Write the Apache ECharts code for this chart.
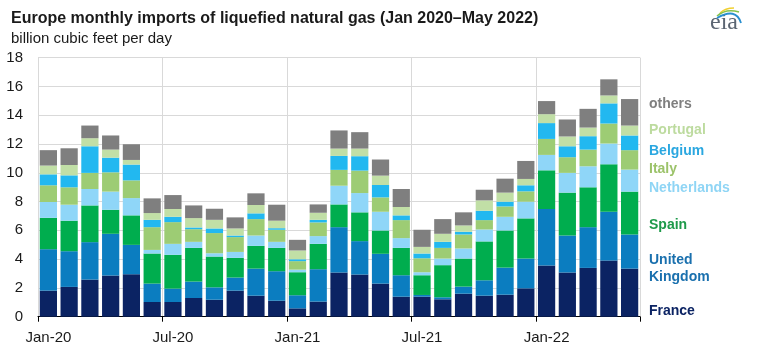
<!DOCTYPE html>
<html>
<head>
<meta charset="utf-8">
<script src="https://cdn.jsdelivr.net/npm/echarts@6/dist/echarts.min.js"></script>
<style>html,body{margin:0;padding:0;background:#fff;}#c{width:762px;height:356px;}</style>
</head>
<body>
<div id="c"></div>
<script>
const months = ['Jan-20','Feb-20','Mar-20','Apr-20','May-20','Jun-20','Jul-20','Aug-20','Sep-20','Oct-20','Nov-20','Dec-20',
  'Jan-21','Feb-21','Mar-21','Apr-21','May-21','Jun-21','Jul-21','Aug-21','Sep-21','Oct-21','Nov-21','Dec-21',
  'Jan-22','Feb-22','Mar-22','Apr-22','May-22'];
const yTicks = [0, 2, 4, 6, 8, 10, 12, 14, 16, 18];

const france      = [1.81,2.07,2.58,2.86,2.95,1.02,1.02,1.30,1.18,1.81,1.46,1.11,0.58,1.05,3.07,2.93,2.30,1.39,1.39,1.21,1.60,1.46,1.53,1.97,3.55,3.07,3.39,3.90,3.34];
const uk          = [2.88,2.48,2.60,2.90,2.04,1.28,0.93,1.14,0.86,0.91,1.88,2.05,0.91,2.25,3.15,2.32,2.07,1.49,0.12,0.14,0.49,1.07,1.88,2.07,3.93,2.57,2.83,3.39,2.37];
const spain       = [2.18,2.12,2.55,1.67,2.05,2.09,2.35,2.34,2.14,1.37,1.58,1.62,1.60,1.76,1.58,2.00,1.62,1.90,1.37,2.23,1.95,2.70,2.58,2.79,2.69,2.98,2.77,3.30,2.98];
const netherlands = [1.10,1.11,1.14,1.26,1.20,0.25,0.76,0.42,0.23,0.41,0.72,0.42,0.18,0.54,1.30,1.34,1.30,0.68,0.21,0.46,0.70,0.83,0.95,1.16,1.07,1.37,1.46,1.44,1.53];
const italy       = [1.16,1.21,1.12,1.34,1.23,1.58,1.51,0.88,1.40,1.03,1.14,0.84,0.59,0.95,1.10,1.56,1.00,1.25,0.97,0.74,0.97,0.65,0.72,0.72,1.11,1.09,1.16,1.39,1.35];
const belgium     = [0.76,0.83,1.85,1.02,1.10,0.51,0.37,0.12,0.32,0.11,0.40,0.11,0.13,0.18,0.97,1.00,0.86,0.33,0.33,0.42,0.19,0.65,0.33,0.42,1.10,0.76,0.93,1.40,1.02];
const portugal    = [0.61,0.72,0.56,0.56,0.32,0.47,0.54,0.65,0.60,0.49,0.58,0.52,0.61,0.49,0.51,0.53,0.65,0.58,0.46,0.56,0.44,0.72,0.63,0.44,0.62,0.68,0.60,0.55,0.69];
const others      = [1.07,1.16,0.88,0.98,1.09,1.02,0.97,0.88,0.77,0.77,0.81,1.11,0.74,0.58,1.26,1.14,1.12,1.25,1.19,1.02,0.91,0.74,0.97,1.25,0.91,1.18,1.30,1.12,1.84];

const seriesDefs = [
  {name:'France', data:france, color:'#0b2363'},
  {name:'United Kingdom', data:uk, color:'#0b7dc0'},
  {name:'Spain', data:spain, color:'#00ad4e'},
  {name:'Netherlands', data:netherlands, color:'#8fd6f8'},
  {name:'Italy', data:italy, color:'#9dcc74'},
  {name:'Belgium', data:belgium, color:'#22b8f0'},
  {name:'Portugal', data:portugal, color:'#c1dfa6'},
  {name:'others', data:others, color:'#7f7f7f'}
];

const chart = echarts.init(document.getElementById('c'), null, {renderer:'canvas'});
const FONT = '"Liberation Sans", Arial, sans-serif';

const legendText = [
  {text:'others', y:103, c:'#7f7f7f'},
  {text:'Portugal', y:129, c:'#bddb9f'},
  {text:'Belgium', y:150, c:'#2aa7e0'},
  {text:'Italy', y:168, c:'#9cc36a'},
  {text:'Netherlands', y:187, c:'#8fd5f5'},
  {text:'Spain', y:224, c:'#1e9a4a'},
  {text:'United\nKingdom', y:259, c:'#1a70ae'},
  {text:'France', y:310, c:'#0b2363'}
];

const graphics = legendText.map(l => ({
  type:'text', left:649, top:l.y - 7, silent:true,
  style:{text:l.text, fill:l.c, font:'bold 14px ' + FONT, textVerticalAlign:'middle', lineHeight:17}
}));
// eia logo
graphics.push({type:'text', left:710, top:11, style:{text:'eia', fill:'#5b6572', font:'24px "Liberation Serif", "DejaVu Serif", serif'}});
graphics.push({type:'bezierCurve', shape:{x1:720, y1:13, cpx1:725, cpy1:8, x2:734, y2:8}, style:{stroke:'#f0d030', lineWidth:1.3, fill:null}});
graphics.push({type:'bezierCurve', shape:{x1:717, y1:16, cpx1:726, cpy1:8, x2:739, y2:12}, style:{stroke:'#84c24a', lineWidth:1.5, fill:null}});
graphics.push({type:'bezierCurve', shape:{x1:717, y1:18, cpx1:736, cpy1:7, x2:741, y2:23}, style:{stroke:'#2a8fcf', lineWidth:1.8, fill:null}});

chart.setOption({
  animation:false,
  backgroundColor:'#fff',
  title:[
    {text:'Europe monthly imports of liquefied natural gas (Jan 2020\u2013May 2022)', left:6, top:6,
     textStyle:{fontFamily:FONT, fontSize:16, fontWeight:'bold', color:'#1a1a1a'}},
    {text:'billion cubic feet per day', left:6, top:26,
     textStyle:{fontFamily:FONT, fontSize:15, fontWeight:'normal', color:'#1a1a1a'}}
  ],
  grid:{left:38, right:122, top:57.6, bottom:39.3, containLabel:false},
  xAxis:{
    type:'category', data:months, boundaryGap:true,
    axisLine:{show:true, lineStyle:{color:'#000', width:1}},
    axisTick:{show:true, interval:5, length:5, lineStyle:{color:'#000'}},
    axisLabel:{interval:5, fontFamily:FONT, fontSize:15, color:'#1a1a1a', margin:14},
    splitLine:{show:true, interval:5, lineStyle:{color:'#d9d9d9', width:1}}
  },
  yAxis:{
    type:'value', min:yTicks[0], max:yTicks[yTicks.length-1], interval:2,
    axisLine:{show:false}, axisTick:{show:false},
    axisLabel:{fontFamily:FONT, fontSize:15, color:'#1a1a1a', margin:15},
    splitLine:{show:true, lineStyle:{color:'#d9d9d9', width:1}}
  },
  series: seriesDefs.map(s => ({
    name:s.name, type:'bar', stack:'total', data:s.data,
    barCategoryGap:'17%',
    itemStyle:{color:s.color},
    emphasis:{disabled:true}
  })),
  graphic: graphics
});
</script>
</body>
</html>
